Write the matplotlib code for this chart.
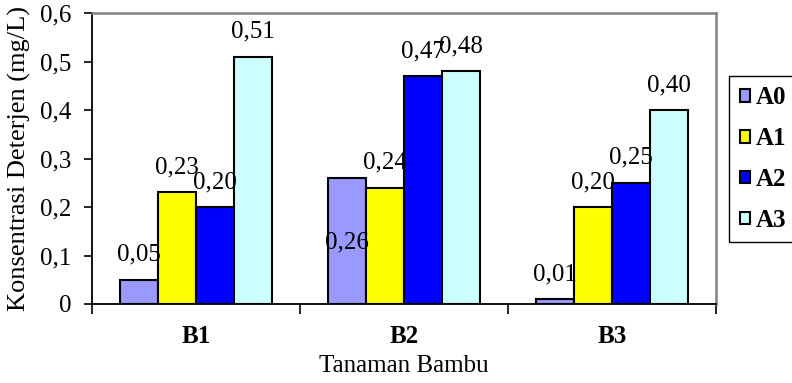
import matplotlib.pyplot as plt
import numpy as np

plt.rcParams['font.family'] = ['Liberation Serif', 'DejaVu Serif']

# data
categories = ['B1', 'B2', 'B3']
series_names = ['A0', 'A1', 'A2', 'A3']
a0 = [0.05, 0.26, 0.01]
a1 = [0.23, 0.24, 0.20]
a2 = [0.20, 0.47, 0.25]
a3 = [0.51, 0.48, 0.40]
value_text = [
    ['0,05', '0,26', '0,01'],
    ['0,23', '0,24', '0,20'],
    ['0,20', '0,47', '0,25'],
    ['0,51', '0,48', '0,40'],
]
colors = ['#9999FF', '#FFFF00', '#0000FF', '#CCFFFF']

fs = 18
fig = plt.figure(figsize=(7.92, 3.83), dpi=100)
ax = fig.add_axes([92 / 792, 1 - 304 / 383, 624 / 792, 291 / 383])

x = np.arange(len(categories))
width = 0.183
for i, vals in enumerate([a0, a1, a2, a3]):
    pos = x + (i - 1.5) * width
    ax.bar(pos, vals, width, color=colors[i], edgecolor='black',
           linewidth=1.5, label=series_names[i], zorder=2)
    for j, v in enumerate(vals):
        # the B2/A0 label sits inside its bar in the original
        dy = -65 if (i == 0 and j == 1) else 25
        ax.annotate(value_text[i][j], (pos[j], v), xytext=(0, dy * 0.72),
                    textcoords='offset points', ha='center', va='center',
                    fontsize=fs, zorder=3)

ax.set_xlim(-0.5, len(categories) - 0.5)
ax.set_ylim(0, 0.6)
ax.set_yticks(np.arange(0, 0.61, 0.1))
ax.set_yticklabels(['0', '0,1', '0,2', '0,3', '0,4', '0,5', '0,6'], fontsize=fs)
ax.set_xticks(np.arange(-0.5, len(categories), 1.0))
ax.set_xticklabels([])
ax.set_xticks(x, minor=True)
ax.set_xticklabels(categories, minor=True, fontsize=fs, fontweight='bold')
ax.tick_params(axis='x', which='minor', length=0, pad=15)
ax.tick_params(axis='x', which='major', length=7, width=1.2, direction='out')
ax.tick_params(axis='y', length=6, width=1.2, direction='out', pad=9)

for s in ['left', 'bottom']:
    ax.spines[s].set_color('black')
    ax.spines[s].set_linewidth(1.3)
for s in ['top', 'right']:
    ax.spines[s].set_color('#808080')
    ax.spines[s].set_linewidth(1.8)

ax.set_ylabel('Konsentrasi Deterjen (mg/L)', fontsize=19)
ax.yaxis.set_label_coords((31 - 92) / 624, 0.5)
ax.set_xlabel('Tanaman Bambu', fontsize=fs)
ax.xaxis.set_label_coords(0.5, -(355 - 304) / 291)

leg = fig.legend(loc='upper left', bbox_to_anchor=(729 / 792, 1 - 76 / 383),
                 borderaxespad=0, prop={'weight': 'bold', 'size': fs},
                 handlelength=0.4, handleheight=0.4, handletextpad=0.25,
                 labelspacing=0.71, borderpad=0.42, fancybox=False,
                 edgecolor='black', framealpha=1)
leg.get_frame().set_linewidth(1.0)

fig.savefig('out.png', dpi=100)
